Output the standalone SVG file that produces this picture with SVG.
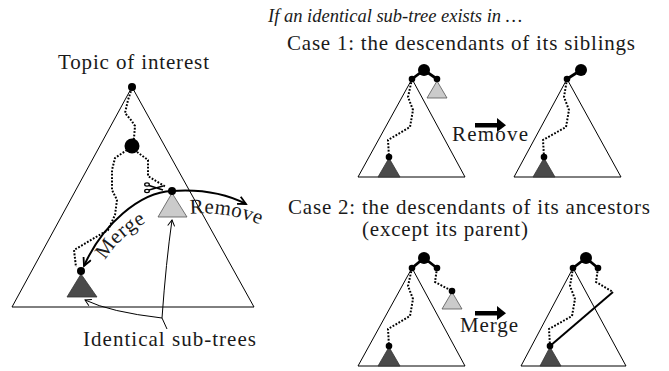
<svg xmlns="http://www.w3.org/2000/svg" width="669" height="371" viewBox="0 0 669 371">
<defs>
<style>
.t{font-family:"Liberation Serif","Times New Roman",serif;font-size:21px;fill:#1a1a1a}
.it{font-style:italic;font-size:18.5px}
.tri{fill:none;stroke:#000;stroke-width:1}
.dt{fill:none;stroke:#000;stroke-width:2;stroke-dasharray:1.8 1.6}
.dark{fill:#4a4a4a;stroke:#333;stroke-width:0.8}
.light{fill:#cbcbcb;stroke:#555;stroke-width:0.8}
.arc{fill:none;stroke:#000;stroke-width:2}
.thin{fill:none;stroke:#000;stroke-width:1}
.bond{stroke:#000;stroke-width:2.8;fill:none}
.blk{fill:#000}
</style>
<marker id="ah" markerUnits="userSpaceOnUse" markerWidth="12" markerHeight="12" refX="9" refY="5" orient="auto"><path d="M1,1 L9,5 L1,9" fill="none" stroke="#000" stroke-width="1.8"/></marker>
<marker id="ahs" markerUnits="userSpaceOnUse" markerWidth="10" markerHeight="10" refX="7" refY="4" orient="auto"><path d="M1,0.5 L7,4 L1,7.5" fill="none" stroke="#000" stroke-width="1"/></marker>
<path id="mergePath" d="M104,262 Q124,228 168,213"/>
<path id="removePath" d="M189,214 Q228,210 268,228"/>
</defs>
<rect width="669" height="371" fill="#fff"/>

<!-- Left overview -->
<g id="topic-tree">
<text class="t" x="58" y="69" textLength="151">Topic of interest</text>
<polygon class="tri" points="132,87 12,307 254,307"/>
<path class="dt" d="M132,88 L128,100 L125,113 L131,120 L135,126 L134,138 L132,143"/>
<path class="dt" d="M127,150 L115,158 L112,170 L112,190 L117,200 L115,215 L108,230 L74,250 L76,267"/>
<path class="dt" d="M137,152 L148,160 L148,176 L156,181 L166,187"/>
<circle class="blk" cx="132" cy="87" r="4"/>
<circle class="blk" cx="132" cy="146" r="7.5"/>
</g>
<g id="subtree-removed">
<polygon class="light" points="172,193 158,217 187,217"/>
<circle class="blk" cx="172" cy="191" r="4"/>
</g>
<g id="subtree-kept">
<polygon class="dark" points="81,274 67,297 97,297"/>
<circle class="blk" cx="81" cy="271" r="4"/>
</g>
<g id="scissors" stroke="#000" fill="none">
<ellipse cx="147" cy="184.5" rx="2.3" ry="1.6" stroke-width="1.3"/>
<ellipse cx="147" cy="191" rx="2.3" ry="1.6" stroke-width="1.3"/>
<path d="M149,185.5 L163,190 M149,190 L163,186" stroke-width="1.6"/>
</g>
<g id="left-connectors">
<path class="arc" d="M172,191 C140,192 102,225 84,266" marker-end="url(#ah)"/>
<path class="arc" d="M172,191 Q215,188 246,204" marker-end="url(#ah)"/>
<path class="thin" d="M167,329 L162,318"/>
<path class="thin" d="M162,318 Q166,262 172,220" marker-end="url(#ahs)"/>
<path class="thin" d="M162,318 Q110,312 85,300" marker-end="url(#ahs)"/>
</g>
<text class="t" font-size="22" letter-spacing="0.5"><textPath href="#mergePath" startOffset="2">Merge</textPath></text>
<text class="t" font-size="22" letter-spacing="0.3"><textPath href="#removePath" startOffset="1">Remove</textPath></text>
<text class="t" x="83" y="346" textLength="173">Identical sub-trees</text>

<!-- Right side texts -->
<text class="t it" x="268" y="22">If an identical sub-tree exists in …</text>
<text class="t" x="287" y="50" textLength="348">Case 1: the descendants of its siblings</text>
<text class="t" x="288" y="214" textLength="362">Case 2: the descendants of its ancestors</text>
<text class="t" x="362" y="236" textLength="166">(except its parent)</text>

<!-- Case 1 before -->
<g id="case1-before">
<path class="bond" d="M412,79 L424,70 L437,79"/>
<polygon class="tri" points="412,79 358,177 465,177"/>
<path class="dt" d="M412,79 L408,97 L413,110 L410,127 L388,140 L389,157"/>
<polygon class="light" points="437,81 427,98 447,98"/>
<polygon class="dark" points="389,158 378,177 400,177"/>
<circle class="blk" cx="424" cy="70" r="6"/>
<circle class="blk" cx="412" cy="79" r="3.3"/>
<circle class="blk" cx="437" cy="79" r="3.3"/>
<circle class="blk" cx="389" cy="157" r="3.3"/>
</g>
<g id="case1-op">
<rect x="475" y="123" width="23" height="4.5" fill="#000"/>
<polygon points="497,118 506,125.2 497,132" fill="#000"/>
<text class="t" x="452" y="141" textLength="76">Remove</text>
</g>
<g id="case1-after">
<path class="bond" d="M567,79 L581,70"/>
<polygon class="tri" points="567,79 514,177 621,177"/>
<path class="dt" d="M567,79 L564,97 L569,110 L566,127 L543,140 L544,157"/>
<polygon class="dark" points="544,158 533,177 555,177"/>
<circle class="blk" cx="581" cy="70" r="6"/>
<circle class="blk" cx="567" cy="79" r="3.3"/>
<circle class="blk" cx="544" cy="157" r="3.3"/>
</g>

<!-- Case 2 before -->
<g id="case2-before">
<path class="bond" d="M412,268 L424,258 L437,268"/>
<polygon class="tri" points="412,268 358,366 465,366"/>
<path class="dt" d="M412,268 L408,286 L413,299 L410,316 L388,329 L389,346"/>
<path class="dt" d="M437,268 L435,282 L450,290"/>
<polygon class="light" points="452,292 442,309 462,309"/>
<polygon class="dark" points="389,347 378,366 400,366"/>
<circle class="blk" cx="424" cy="258" r="6"/>
<circle class="blk" cx="412" cy="268" r="3.3"/>
<circle class="blk" cx="437" cy="268" r="3.3"/>
<circle class="blk" cx="452" cy="291" r="3.3"/>
<circle class="blk" cx="389" cy="346" r="3.3"/>
</g>
<g id="case2-op">
<rect x="475" y="311" width="23" height="4.5" fill="#000"/>
<polygon points="497,306 506,313.2 497,320" fill="#000"/>
<text class="t" x="460" y="332" textLength="58">Merge</text>
</g>
<g id="case2-after">
<path class="bond" d="M573,268 L586,258 L598,268"/>
<polygon class="tri" points="573,268 521,366 626,366"/>
<path class="dt" d="M573,268 L570,286 L575,299 L572,316 L549,329 L550,346"/>
<path class="dt" d="M598,268 L596,282 L613,292"/>
<path d="M613,292 L550,346" stroke="#000" stroke-width="2"/>
<polygon class="dark" points="550,347 540,366 561,366"/>
<circle class="blk" cx="586" cy="258" r="6"/>
<circle class="blk" cx="573" cy="268" r="3.3"/>
<circle class="blk" cx="598" cy="268" r="3.3"/>
<circle class="blk" cx="550" cy="346" r="3.3"/>
</g>
</svg>
